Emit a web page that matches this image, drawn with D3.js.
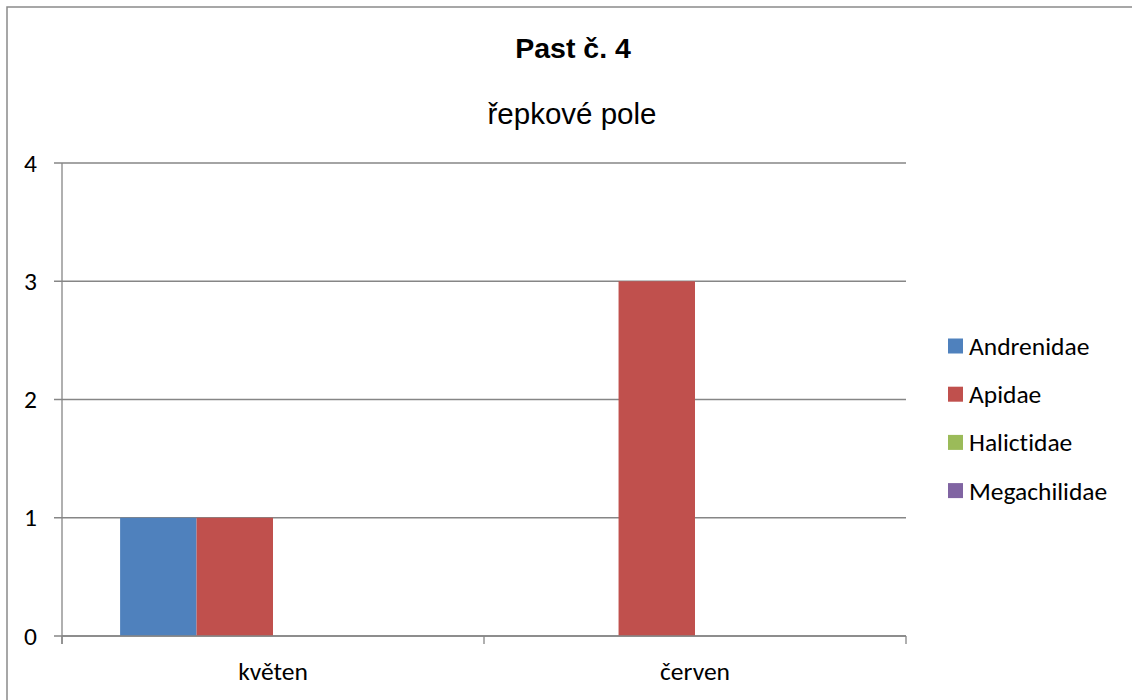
<!DOCTYPE html>
<html>
<head>
<meta charset="utf-8">
<script src="https://cdn.jsdelivr.net/npm/d3@7"></script>
<style>
  html, body { margin: 0; padding: 0; background: #fff; }
  svg { display: block; }
  text { font-variant-ligatures: none; font-feature-settings: "liga" 0, "dlig" 0; }
</style>
</head>
<body>
<svg id="chart" width="1132" height="700"></svg>
<script>
// Catches per month, by bee family
const months = ["květen", "červen"];
const families = ["Andrenidae", "Apidae", "Halictidae", "Megachilidae"];
const andrenidae = [1, 0];
const apidae = [1, 3];
const halictidae = [0, 0];
const megachilidae = [0, 0];
const yTicks = [0, 1, 2, 3, 4];
const colors = ["#4F81BD", "#C0504D", "#9BBB59", "#8064A2"];

const seriesValues = [andrenidae, apidae, halictidae, megachilidae];
const rows = months.map((m, i) => ({
  month: m,
  values: families.map((f, j) => ({ family: f, value: seriesValues[j][i] }))
}));

const svg = d3.select("#chart");
const bodyFont = "Carlito, Lato, 'Liberation Sans', sans-serif";
const titleFont = "'Liberation Sans', Arial, sans-serif";
const gridColor = "#868686";
const labelSize = 25.5;

// Outer chart frame
svg.append("rect")
  .attr("x", 7).attr("y", 7)
  .attr("width", 1140).attr("height", 720)
  .attr("fill", "none").attr("stroke", "#8a8a8a").attr("stroke-width", 1.5);

// Plot area
const plotLeft = 62, plotRight = 906, plotTop = 163, plotBottom = 636;

const x0 = d3.scaleBand().domain(months).range([plotLeft, plotRight]).paddingInner(0).paddingOuter(0);
const x1 = d3.scaleBand().domain(families).range([0, x0.bandwidth()]).paddingInner(0).paddingOuter(0.76);
const y = d3.scaleLinear().domain([0, 4]).range([plotBottom, plotTop]);

// Horizontal gridlines
svg.append("g")
  .selectAll("line")
  .data(yTicks)
  .join("line")
  .attr("x1", plotLeft - 8).attr("x2", plotRight)
  .attr("y1", d => y(d)).attr("y2", d => y(d))
  .attr("stroke", gridColor).attr("stroke-width", 1.3);

// Bars
svg.append("g")
  .selectAll("g")
  .data(rows)
  .join("g")
  .attr("transform", d => `translate(${x0(d.month)},0)`)
  .selectAll("rect")
  .data(d => d.values.filter(v => v.value > 0))
  .join("rect")
  .attr("x", d => x1(d.family))
  .attr("width", x1.bandwidth())
  .attr("y", d => y(d.value))
  .attr("height", d => y(0) - y(d.value))
  .attr("fill", d => colors[families.indexOf(d.family)]);

// Value axis line
svg.append("line")
  .attr("x1", plotLeft).attr("x2", plotLeft)
  .attr("y1", plotTop).attr("y2", plotBottom + 8)
  .attr("stroke", gridColor).attr("stroke-width", 1.3);

// Category axis labels
const xAxis = d3.axisBottom(x0).tickSize(0).tickPadding(0);
const xg = svg.append("g").attr("transform", `translate(0,${plotBottom})`).call(xAxis);
xg.select(".domain").remove();
xg.selectAll(".tick line").remove();
xg.selectAll(".tick text")
  .attr("y", 44)
  .attr("dy", 0)
  .attr("font-family", bodyFont).attr("font-size", labelSize).attr("fill", "#000");

// Outward ticks at band boundaries
const boundaries = months.map(m => x0(m)).concat([plotRight]);
svg.append("g")
  .selectAll("line")
  .data(boundaries)
  .join("line")
  .attr("x1", d => d).attr("x2", d => d)
  .attr("y1", plotBottom).attr("y2", plotBottom + 8)
  .attr("stroke", gridColor).attr("stroke-width", 1.3);
svg.append("line")
  .attr("x1", plotLeft).attr("x2", plotRight)
  .attr("y1", plotBottom).attr("y2", plotBottom)
  .attr("stroke", gridColor).attr("stroke-width", 1.3);

// Value axis labels
const yAxis = d3.axisLeft(y).tickValues(yTicks).tickFormat(d3.format("d")).tickSize(0).tickPadding(0);
const yg = svg.append("g").attr("transform", `translate(${plotLeft - 25},0)`).call(yAxis);
yg.select(".domain").remove();
yg.selectAll(".tick text")
  .attr("font-family", bodyFont).attr("font-size", labelSize).attr("fill", "#000");

// Titles
svg.append("text")
  .attr("x", 573).attr("y", 58)
  .attr("text-anchor", "middle")
  .attr("font-family", titleFont).attr("font-weight", "bold").attr("font-size", 28.5)
  .text("Past č. 4");
svg.append("text")
  .attr("x", 572).attr("y", 124)
  .attr("text-anchor", "middle")
  .attr("font-family", titleFont).attr("font-size", 29.5)
  .text("řepkové pole");

// Legend
const legend = svg.append("g").attr("transform", "translate(948,346)");
const item = legend.selectAll("g")
  .data(families)
  .join("g")
  .attr("transform", (d, i) => `translate(0,${i * 48.2})`);
item.append("rect")
  .attr("x", 0).attr("y", -7.5)
  .attr("width", 15).attr("height", 15)
  .attr("fill", (d, i) => colors[i]);
item.append("text")
  .attr("x", 21).attr("y", 0)
  .attr("dy", "0.35em")
  .attr("font-family", bodyFont).attr("font-size", labelSize).attr("fill", "#000")
  .text(d => d);
</script>
</body>
</html>
